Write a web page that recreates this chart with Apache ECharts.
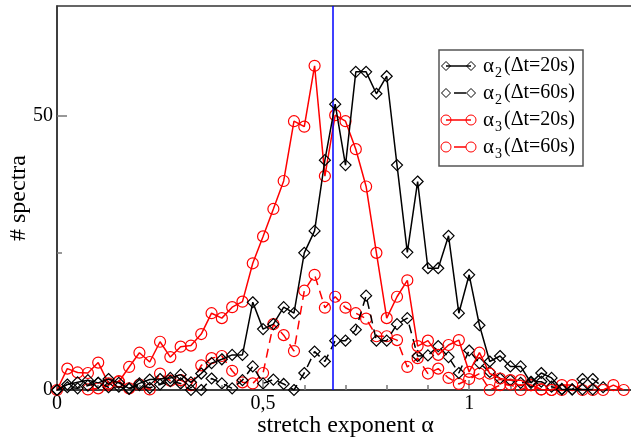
<!DOCTYPE html>
<html><head><meta charset="utf-8">
<script src="https://cdn.jsdelivr.net/npm/echarts@6/dist/echarts.min.js"></script>
<style>html,body{margin:0;padding:0;background:#fff}#c{width:631px;height:438px}</style>
</head><body><div id="c"></div><script>
// stretch exponent alpha (x values)
const xs = [0,0.025,0.05,0.075,0.1,0.125,0.15,0.175,0.2,0.225,0.25,0.275,0.3,0.325,0.35,0.375,0.4,0.425,0.45,0.475,
  0.5,0.525,0.55,0.575,0.6,0.625,0.65,0.675,0.7,0.725,0.75,0.775,0.8,0.825,0.85,0.875,0.9,0.925,0.95,0.975,
  1,1.025,1.05,1.075,1.1,1.125,1.15,1.175,1.2,1.225,1.25,1.275,1.3,1.325,1.35,1.375];
// alpha2, dt=20s (black solid, diamonds)
const a2_20 = [0,1.0,1.4,1.8,1.3,2.0,1.3,0.3,1.2,1.9,2.0,2.2,2.8,1.4,3.0,4.9,5.6,6.4,6.4,16.0,
  11.1,12.0,15.1,14.0,25.0,29.0,41.9,52.1,41.0,58.0,58.0,54.0,57.2,41.0,25.1,38.0,22.2,22.2,28.1,14.0,
  21.0,11.8,5.2,6.2,4.3,4.3,1.3,3.1,2.2,0.1,0.1,0.1,0.1];
// alpha2, dt=60s (black dashed, diamonds)
const a2_60 = [0,0.5,0.3,0.8,1.3,0.5,0.6,0.2,0.9,0.4,1.0,1.6,1.2,0,0,2.1,1.2,0.3,1.8,4.3,
  1.2,1.9,1.1,0,3.1,7.0,5.2,9.0,9.0,11.0,17.2,9.0,9.0,12.0,13.1,6.2,6.3,8.0,6.0,3.1,
  7.2,4.9,3.3,2.1,1.8,1.3,1.5,1.5,0.6,0.2,0.1,2.0,2.0,0.5];
// alpha3, dt=20s (red solid, circles)
const a3_20 = [0,3.9,3.2,3.1,5.0,1.2,1.5,4.2,6.8,5.1,8.8,6.0,7.9,8.1,10.2,14.0,13.1,15.1,16.1,23.1,
  28.0,33.0,38.1,49.0,48.0,59.1,39.0,50.1,49.0,43.9,37.1,25.0,13.1,17.0,20.0,8.0,9.0,6.4,8.2,9.1,
  3.3,6.8,3.0,2.1,1.8,1.8,0.9,0.1,0,0.9,0.9,0,0,0,0.9,0];
// alpha3, dt=60s (red dashed, circles)
const a3_60 = [null,null,null,0.1,0.3,0.9,1.6,0.3,1.0,0.1,3.0,1.7,1.8,0.9,4.5,5.8,6.2,3.5,1.4,1.2,
  3.1,12.0,10.0,7.1,18.1,21.0,15.0,17.0,15.0,14.0,13.0,9.8,9.8,9.1,4.2,5.8,3.0,3.9,2.2,1.1,
  2.0,3.0,0,0.9,1.0,0,0.9,0.1,0,0];
const blueX = 0.665;
const xMajor = [0,0.5,1];
const xMinor = [0.1,0.2,0.3,0.4,0.6,0.7,0.8,0.9,1.1,1.2,1.3];
const yMajor = [0,50];
const yMinor = [25];

const FONT = "'Liberation Serif','Times New Roman',serif";
function pairs(arr){ const out=[]; arr.forEach((v,i)=>{ if(v!=null) out.push([xs[i],v]); }); return out; }
function mk(name, arr, color, symbol, size, dashed, z){
  return {name, type:'line', xAxisIndex:0, yAxisIndex:0, data:pairs(arr), symbol, symbolSize:size, showSymbol:true,
    lineStyle:{color, width:1.5, type: dashed ? [9,6] : 'solid'},
    itemStyle:{color:'rgba(0,0,0,0)', borderColor:color, borderWidth:1.2},
    emphasis:{disabled:true}, z, animation:false, clip:true};
}
const series = [
  mk('a3_60', a3_60, '#ff0000', 'circle', 11, true, 2),
  mk('a2_60', a2_60, '#000000', 'diamond', 11, true, 3),
  mk('a3_20', a3_20, '#ff0000', 'circle', 11, false, 4),
  mk('a2_20', a2_20, '#000000', 'diamond', 11, false, 5)
];
series[3].markLine = {silent:true, symbol:'none', label:{show:false}, animation:false,
  lineStyle:{color:'#0000ff', width:1.5, type:'solid'}, data:[{xAxis:blueX}]};

// legend drawn as graphic
const legendRows = [
  {sym:'diamond', color:'#000', dashed:false, sub:'2', txt:'(Δt=20s)'},
  {sym:'diamond', color:'#000', dashed:true, sub:'2', txt:'(Δt=60s)'},
  {sym:'circle', color:'#ff0000', dashed:false, sub:'3', txt:'(Δt=20s)'},
  {sym:'circle', color:'#ff0000', dashed:true, sub:'3', txt:'(Δt=60s)'}
];
const g = [{type:'rect', shape:{x:439,y:50,width:144,height:116}, style:{fill:'#fff', stroke:'#555', lineWidth:1.5}, z:10}];
legendRows.forEach((r,i)=>{
  const y = 66 + i*27;
  g.push({type:'line', shape: r.dashed ? {x1:454,y1:y,x2:466,y2:y} : {x1:446,y1:y,x2:471,y2:y}, style:{stroke:r.color, lineWidth:1.5}, z:11});
  [446,471].forEach(cx=>{
    if(r.sym==='diamond') g.push({type:'polygon', shape:{points:[[cx-4.5,y],[cx,y-4.5],[cx+4.5,y],[cx,y+4.5]]}, style:{fill:'none', stroke:r.color, lineWidth:1}, z:12});
    else g.push({type:'circle', shape:{cx, cy:y, r:5}, style:{fill:'none', stroke:r.color, lineWidth:1}, z:12});
  });
  g.push({type:'text', x:483, y:y, style:{text:'α', font:'21px '+FONT, fill:'#000', verticalAlign:'middle'}, z:12});
  g.push({type:'text', x:495, y:y+7, style:{text:r.sub, font:'14px '+FONT, fill:'#000', verticalAlign:'middle'}, z:12});
  g.push({type:'text', x:504, y:y, style:{text:r.txt, font:'20px '+FONT, fill:'#000', verticalAlign:'middle'}, z:12});
});

const axisLbl = {color:'#000', fontSize:20, fontFamily:FONT};
const option = {
  animation:false,
  backgroundColor:'#fff',
  grid:{left:57, top:6, right:-3, bottom:48, show:true, borderColor:'#333', borderWidth:1.5,
    backgroundColor:'rgba(0,0,0,0)', containLabel:false, outerBoundsMode:'none'},
  xAxis:[{
    type:'value', min:0, max:1.4, position:'bottom',
    axisLine:{show:true, onZero:false, lineStyle:{color:'#333', width:1.5}},
    axisTick:{show:true, inside:true, length:10, customValues:xMajor, lineStyle:{color:'#777', width:1.5}},
    axisLabel:Object.assign({customValues:xMajor, margin:4, formatter:v=>String(v).replace('.',',')}, axisLbl),
    splitLine:{show:false},
    name:'stretch exponent α', nameLocation:'middle', nameGap:24, nameMoveOverlap:false,
    nameTextStyle:{fontSize:24, fontFamily:FONT, color:'#000'}
  },{
    type:'value', min:0, max:1.4, position:'bottom',
    axisLine:{show:false}, axisTick:{show:true, inside:true, length:5, customValues:xMinor, lineStyle:{color:'#777', width:1.5}},
    axisLabel:{show:false}, splitLine:{show:false}
  }],
  yAxis:[{
    type:'value', min:0, max:70, position:'left',
    axisLine:{show:true, onZero:false, lineStyle:{color:'#333', width:1.5}},
    axisTick:{show:true, inside:true, length:10, customValues:yMajor, lineStyle:{color:'#777', width:1.5}},
    axisLabel:Object.assign({customValues:yMajor, margin:4}, axisLbl),
    splitLine:{show:false},
    name:'# spectra', nameLocation:'middle', nameRotate:90, nameGap:26, nameMoveOverlap:false,
    nameTextStyle:{fontSize:24, fontFamily:FONT, color:'#000'}
  },{
    type:'value', min:0, max:70, position:'left',
    axisLine:{show:false}, axisTick:{show:true, inside:true, length:5, customValues:yMinor, lineStyle:{color:'#777', width:1.5}},
    axisLabel:{show:false}, splitLine:{show:false}
  }],
  series,
  graphic:g
};
const chart = echarts.init(document.getElementById('c'));
chart.setOption(option);
</script></body></html>
